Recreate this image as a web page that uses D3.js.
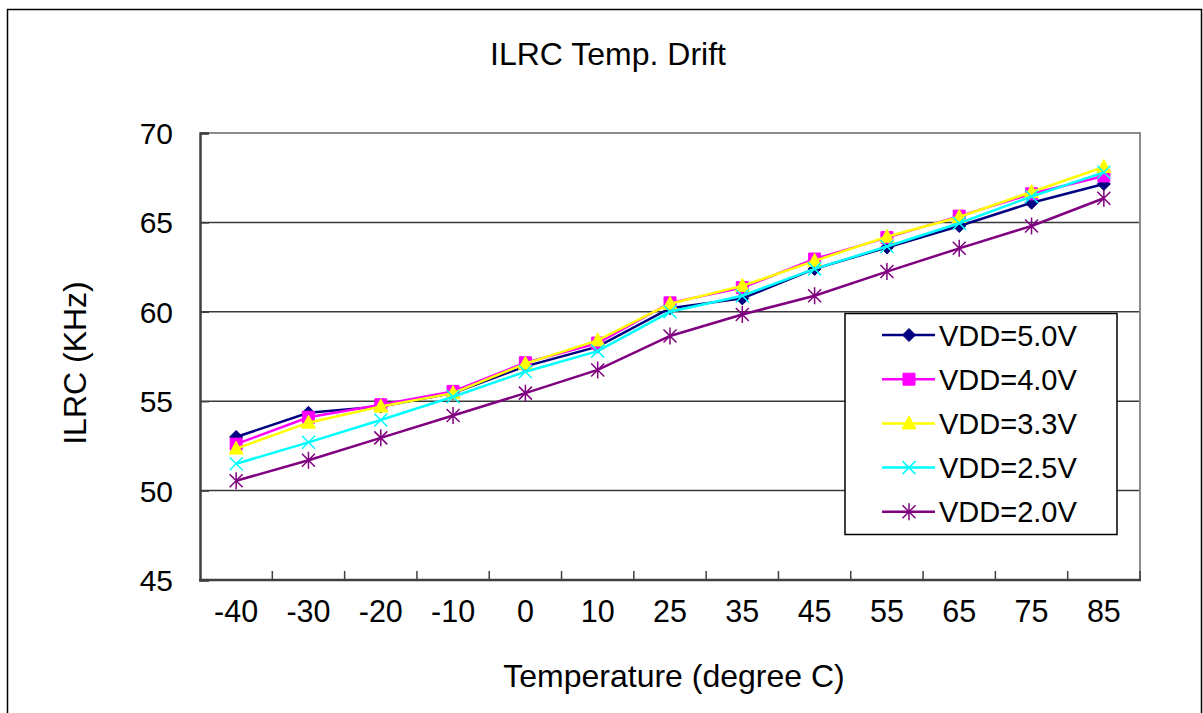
<!DOCTYPE html>
<html>
<head>
<meta charset="utf-8">
<script src="https://cdn.jsdelivr.net/npm/d3@7"></script>
<style>
  body { margin: 0; background: #fff; }
  text { font-family: "Liberation Sans", Arial, sans-serif; fill: #000; }
</style>
</head>
<body>
<script>
// data
var temps = ["-40", "-30", "-20", "-10", "0", "10", "25", "35", "45", "55", "65", "75", "85"];
var vdd50 = [53.0, 54.35, 54.7, 55.45, 56.95, 58.05, 60.2, 60.75, 62.4, 63.6, 64.8, 66.1, 67.15];
var vdd40 = [52.6, 54.1, 54.8, 55.55, 57.15, 58.25, 60.5, 61.35, 62.95, 64.15, 65.35, 66.6, 67.6];
var vdd33 = [52.35, 53.8, 54.7, 55.45, 57.1, 58.4, 60.45, 61.45, 62.85, 64.2, 65.3, 66.7, 68.1];
var vdd25 = [51.5, 52.7, 53.95, 55.25, 56.65, 57.8, 60.0, 60.9, 62.4, 63.65, 64.95, 66.45, 67.8];
var vdd20 = [50.55, 51.7, 52.95, 54.2, 55.45, 56.75, 58.65, 59.85, 60.9, 62.25, 63.55, 64.8, 66.35];
var seriesNames = ["VDD=5.0V", "VDD=4.0V", "VDD=3.3V", "VDD=2.5V", "VDD=2.0V"];
var seriesColors = ["#000080", "#ff00ff", "#ffff00", "#00ffff", "#800080"];
var seriesMarkers = ["diamond", "square", "triangle", "cross", "star"];
var yTicks = [45, 50, 55, 60, 65, 70];

var allSeries = [vdd50, vdd40, vdd33, vdd25, vdd20];

// set the dimensions of the plot
var W = 1203, H = 713;
var plot = { left: 200, right: 1140, top: 133, bottom: 580 };

var svg = d3.select("body")
    .append("svg")
    .attr("width", W)
    .attr("height", H);

// outer chart frame
svg.append("rect")
    .attr("x", 7.5).attr("y", 9.5)
    .attr("width", 1194).attr("height", 720)
    .attr("fill", "#fff")
    .attr("stroke", "#000")
    .attr("stroke-width", 1.5);

var x = d3.scaleBand()
    .domain(temps)
    .range([plot.left, plot.right]);

var y = d3.scaleLinear()
    .domain([45, 70])
    .range([plot.bottom, plot.top]);

// grid lines
svg.append("g")
    .selectAll("line")
    .data(yTicks.filter(function (d) { return d > 45 && d < 70; }))
    .enter().append("line")
    .attr("x1", plot.left).attr("x2", plot.right)
    .attr("y1", function (d) { return y(d); })
    .attr("y2", function (d) { return y(d); })
    .attr("stroke", "#3a3a3a")
    .attr("stroke-width", 1.5);

// top and right frame (grey)
svg.append("path")
    .attr("d", "M" + plot.left + "," + y(70) + "H" + plot.right + "V" + plot.bottom)
    .attr("fill", "none")
    .attr("stroke", "#8c8c8c")
    .attr("stroke-width", 2);

// Y axis
var yAxis = svg.append("g")
    .attr("transform", "translate(" + plot.left + ",0)")
    .call(d3.axisRight(y).tickValues(yTicks).tickSize(9).tickFormat(""));
yAxis.select(".domain").attr("stroke", "#404040").attr("stroke-width", 2.5);
yAxis.selectAll(".tick line").attr("stroke", "#404040").attr("stroke-width", 1.5);

svg.append("g")
    .selectAll("text")
    .data(yTicks)
    .enter().append("text")
    .attr("x", 173)
    .attr("y", function (d) { return y(d) + 11; })
    .attr("text-anchor", "end")
    .style("font-size", "30px")
    .text(function (d) { return d; });

// X axis: ticks on category boundaries pointing up
var bounds = temps.map(function (d) { return x(d); }).concat([plot.right]).slice(1);
svg.append("g")
    .selectAll("line")
    .data(bounds)
    .enter().append("line")
    .attr("x1", function (d) { return d; }).attr("x2", function (d) { return d; })
    .attr("y1", plot.bottom).attr("y2", plot.bottom - 9)
    .attr("stroke", "#404040")
    .attr("stroke-width", 1.5);

svg.append("line")
    .attr("x1", plot.left - 1).attr("x2", plot.right + 1)
    .attr("y1", plot.bottom).attr("y2", plot.bottom)
    .attr("stroke", "#404040")
    .attr("stroke-width", 2.5);

svg.append("g")
    .selectAll("text")
    .data(temps)
    .enter().append("text")
    .attr("x", function (d) { return x(d) + x.bandwidth() / 2; })
    .attr("y", 622)
    .attr("text-anchor", "middle")
    .style("font-size", "30.5px")
    .text(function (d) { return d; });

// titles
svg.append("text")
    .attr("x", 608).attr("y", 65)
    .attr("text-anchor", "middle")
    .style("font-size", "32px")
    .text("ILRC Temp. Drift");

svg.append("text")
    .attr("x", 674).attr("y", 687)
    .attr("text-anchor", "middle")
    .style("font-size", "32px")
    .text("Temperature (degree C)");

svg.append("text")
    .attr("transform", "translate(86,363) rotate(-90)")
    .attr("text-anchor", "middle")
    .style("font-size", "32px")
    .text("ILRC (KHz)");

// marker shapes
function markerPath(kind) {
    if (kind === "diamond") return "M0,-6.5L6.5,0L0,6.5L-6.5,0Z";
    if (kind === "square") return "M-6,-6H6V6H-6Z";
    if (kind === "triangle") return "M0,-7.5L7,5.5H-7Z";
    if (kind === "cross") return "M-6.5,-6.5L6.5,6.5M-6.5,6.5L6.5,-6.5";
    return "M-6.5,-6.5L6.5,6.5M-6.5,6.5L6.5,-6.5M0,-8.5V8.5";
}

function drawMarker(g, kind, color) {
    var filled = kind === "diamond" || kind === "square" || kind === "triangle";
    g.append("path")
        .attr("d", markerPath(kind))
        .attr("fill", filled ? color : "none")
        .attr("stroke", color)
        .attr("stroke-width", filled ? 1 : 1.5);
}

var line = d3.line()
    .x(function (d, i) { return x(temps[i]) + x.bandwidth() / 2; })
    .y(function (d) { return y(d); });

// series lines and markers
allSeries.forEach(function (vals, s) {
    svg.append("path")
        .datum(vals)
        .attr("fill", "none")
        .attr("stroke", seriesColors[s])
        .attr("stroke-width", 2.5)
        .attr("d", line);

    vals.forEach(function (v, i) {
        var g = svg.append("g")
            .attr("transform", "translate(" + (x(temps[i]) + x.bandwidth() / 2) + "," + y(v) + ")");
        drawMarker(g, seriesMarkers[s], seriesColors[s]);
    });
});

// legend
var legend = svg.append("g");
legend.append("rect")
    .attr("x", 845).attr("y", 313.5)
    .attr("width", 272).attr("height", 221)
    .attr("fill", "#fff")
    .attr("stroke", "#000")
    .attr("stroke-width", 1.5);

seriesNames.forEach(function (name, s) {
    var cy = 335 + s * 44.2;
    legend.append("line")
        .attr("x1", 882).attr("x2", 935)
        .attr("y1", cy).attr("y2", cy)
        .attr("stroke", seriesColors[s])
        .attr("stroke-width", 2.5);
    var g = legend.append("g").attr("transform", "translate(909," + cy + ")");
    drawMarker(g, seriesMarkers[s], seriesColors[s]);
    legend.append("text")
        .attr("x", 939).attr("y", cy + 10.5)
        .style("font-size", "29px")
        .text(name);
});
</script>
</body>
</html>
